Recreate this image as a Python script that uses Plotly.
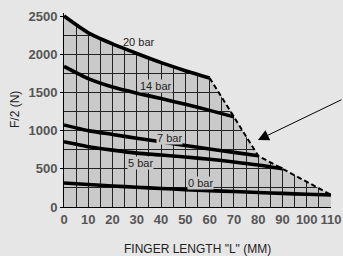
import plotly.graph_objects as go

# ---- data ----
x20 = [0, 10, 20, 30, 40, 50, 60]
y20 = [2500, 2280, 2135, 2010, 1890, 1785, 1690]

x14 = [0, 10, 20, 30, 40, 50, 60, 70]
y14 = [1840, 1680, 1570, 1490, 1420, 1345, 1265, 1180]

x7 = [0, 10, 20, 30, 40, 50, 60, 70, 80]
y7 = [1075, 1000, 950, 900, 855, 805, 760, 715, 670]

x5 = [0, 10, 20, 30, 40, 50, 60, 70, 80, 90]
y5 = [855, 790, 745, 705, 680, 655, 625, 590, 550, 500]

x0 = [0, 10, 20, 30, 40, 50, 60, 70, 80, 90, 100, 110]
y0 = [315, 295, 275, 258, 242, 228, 215, 202, 190, 178, 167, 158]

# dashed envelope (limit line)
env_x = [60, 80, 110]
env_y = [1690, 670, 160]

labels = ["20 bar", "14 bar", "7 bar", "5 bar", "0 bar"]
label_x = [30.9, 37.7, 43.3, 31.5, 56.4]
label_y = [2166, 1590, 903, 576, 308]

x_ticks = [0, 10, 20, 30, 40, 50, 60, 70, 80, 90, 100, 110]
y_ticks = [0, 500, 1000, 1500, 2000, 2500]

x_title = 'FINGER LENGTH "L" (MM)'
y_title = "F/2 (N)"

XMAX = 110
YMAX = 2540

PAPER = "#e6e6e6"
SHADE = "#c9c9c9"
GRID = "#222222"

fig = go.Figure()

# mask covering the area outside the permitted (shaded) region
mask_x = x20 + env_x[1:] + [XMAX, 0]
mask_y = y20 + env_y[1:] + [YMAX, YMAX]
fig.add_trace(go.Scatter(x=mask_x, y=mask_y, mode="lines", fill="toself",
                         fillcolor=PAPER, line=dict(width=0, color=PAPER),
                         hoverinfo="skip", showlegend=False))

# dashed envelope
fig.add_trace(go.Scatter(x=env_x, y=env_y, mode="lines",
                         line=dict(color="black", width=2, dash="5px,3px"),
                         showlegend=False))

for xs, ys in [(x20, y20), (x14, y14), (x7, y7), (x5, y5), (x0, y0)]:
    fig.add_trace(go.Scatter(x=xs, y=ys, mode="lines",
                             line=dict(color="black", width=3.6, shape="spline", smoothing=0.6),
                             showlegend=False))

for i, (t, lx, ly) in enumerate(zip(labels, label_x, label_y)):
    fig.add_annotation(x=lx, y=ly, text=t, showarrow=False,
                       font=dict(family="Liberation Sans", size=11, color="#222222"),
                       bgcolor=None if i == 0 else SHADE, borderpad=0)

# arrow pointing at the envelope
fig.add_annotation(x=79.9, y=877, ax=85, ay=-41, text="", showarrow=True,
                   arrowhead=2, arrowsize=2.2, arrowwidth=1, arrowcolor="black",
                   standoff=0)

# axis titles
titlefont = dict(family="Liberation Sans", size=12, color="#222222")
fig.add_annotation(xref="paper", yref="paper", x=0.5, y=0, yanchor="middle",
                   yshift=-42, text=x_title, showarrow=False, font=titlefont)
fig.add_annotation(xref="paper", yref="paper", x=0, y=0.5, xanchor="center",
                   xshift=-49, textangle=-90, text=y_title, showarrow=False, font=titlefont)

tickfont = dict(family="Liberation Sans", size=13, color="#555555", weight="bold")

fig.update_xaxes(range=[0, XMAX], tickvals=x_ticks, ticktext=[str(v) for v in x_ticks],
                 showgrid=True, gridcolor=GRID, gridwidth=1,
                 minor=dict(dtick=5, tick0=0, showgrid=True, gridcolor=GRID, gridwidth=1),
                 showline=True, linecolor="black", linewidth=1,
                 ticks="", tickfont=tickfont, zeroline=False, automargin=False)
fig.update_yaxes(range=[0, YMAX], tickvals=y_ticks, ticktext=[str(v) for v in y_ticks],
                 showgrid=True, gridcolor=GRID, gridwidth=1,
                 minor=dict(dtick=250, tick0=0, showgrid=True, gridcolor=GRID, gridwidth=1),
                 showline=True, linecolor="black", linewidth=1,
                 ticks="outside", ticklen=3, tickcolor="black",
                 tickfont=tickfont, zeroline=False, automargin=False)

fig.update_layout(width=343, height=256, margin=dict(l=64, r=12, t=13, b=49),
                  paper_bgcolor=PAPER, plot_bgcolor=SHADE, showlegend=False)

fig.write_html("out.html", config={"displayModeBar": False},
               post_script="document.body.style.margin='0';document.body.style.background='#e6e6e6';")
